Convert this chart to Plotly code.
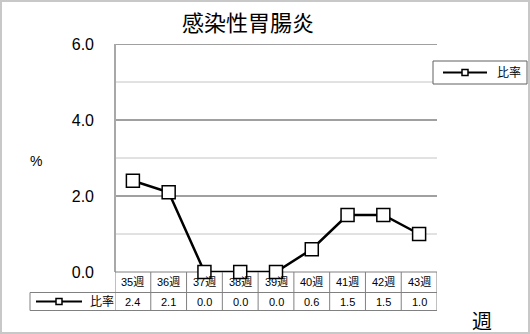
import plotly.graph_objects as go

weeks = ["35週", "36週", "37週", "38週", "39週", "40週", "41週", "42週", "43週"]
ratio = [2.4, 2.1, 0.0, 0.0, 0.0, 0.6, 1.5, 1.5, 1.0]
series_name = "比率"
title_text = "感染性胃腸炎"
y_ticks = [0, 2, 4, 6]
y_ticktext = ["0.0", "2.0", "4.0", "6.0"]

W, H = 530, 334
L, R, T, B = 115, 437, 44, 272
FONT = "Liberation Sans, Arial, Noto Sans CJK JP"

def px(xp):
    return (xp - L) / (R - L)

def py(yp):
    return (B - yp) / (B - T)

xs = list(range(len(weeks)))

fig = go.Figure()
fig.add_trace(go.Scatter(
    x=xs, y=ratio, mode="lines+markers", showlegend=False, name=series_name, cliponaxis=False,
    line=dict(color="black", width=2.5),
    marker=dict(symbol="square", size=13, color="white", line=dict(color="black", width=1.5)),
))

shapes = []
grid_major = "#808080"
grid_minor = "#c4c4c4"
for v in [1, 3, 5]:
    shapes.append(dict(type="line", xref="paper", yref="y", x0=0, x1=1, y0=v, y1=v,
                       line=dict(color=grid_minor, width=1), layer="below"))
for v in [2, 4, 6]:
    shapes.append(dict(type="line", xref="paper", yref="y", x0=0, x1=1, y0=v, y1=v,
                       line=dict(color=grid_major, width=1.3), layer="below"))
# left axis line
shapes.append(dict(type="line", xref="paper", yref="paper", x0=0, x1=0, y0=0, y1=1,
                   line=dict(color="#a8a8a8", width=2), layer="below"))

# data table
tcol = "#808080"
y_mid = 292.5
y_bot = 310.5
for k in range(len(weeks) + 1):
    shapes.append(dict(type="line", xref="x", yref="paper", x0=k - 0.5, x1=k - 0.5,
                       y0=py(B), y1=py(y_bot), line=dict(color=tcol, width=1), layer="below"))
shapes.append(dict(type="line", xref="paper", yref="paper", x0=0, x1=1, y0=py(B), y1=py(B),
                   line=dict(color=tcol, width=1), layer="below"))
shapes.append(dict(type="line", xref="paper", yref="paper", x0=px(30), x1=1, y0=py(y_mid), y1=py(y_mid),
                   line=dict(color=tcol, width=1), layer="below"))
shapes.append(dict(type="line", xref="paper", yref="paper", x0=px(30), x1=1, y0=py(y_bot), y1=py(y_bot),
                   line=dict(color=tcol, width=1), layer="below"))
shapes.append(dict(type="line", xref="paper", yref="paper", x0=px(30), x1=px(30), y0=py(y_mid), y1=py(y_bot),
                   line=dict(color=tcol, width=1), layer="below"))
# legend key in table
ym = (y_mid + y_bot) / 2
shapes.append(dict(type="line", xref="paper", yref="paper", x0=px(36), x1=px(82), y0=py(ym), y1=py(ym),
                   line=dict(color="black", width=2)))
shapes.append(dict(type="rect", xref="paper", yref="paper", x0=px(56), x1=px(62), y0=py(ym - 3), y1=py(ym + 3),
                   line=dict(color="black", width=1.5), fillcolor="white"))

# legend box (upper right)
lg_l, lg_r, lg_t, lg_b = 433, 527, 61, 84
lg_m = (lg_t + lg_b) / 2
shapes.append(dict(type="rect", xref="paper", yref="paper", x0=px(lg_l), x1=px(lg_r), y0=py(lg_t), y1=py(lg_b),
                   line=dict(color="#606060", width=1), fillcolor="white"))
shapes.append(dict(type="line", xref="paper", yref="paper", x0=px(443), x1=px(487), y0=py(lg_m), y1=py(lg_m),
                   line=dict(color="black", width=2)))
shapes.append(dict(type="rect", xref="paper", yref="paper", x0=px(462), x1=px(468), y0=py(lg_m - 3), y1=py(lg_m + 3),
                   line=dict(color="black", width=1.5), fillcolor="white"))

# outer border
shapes.append(dict(type="rect", xref="paper", yref="paper", x0=px(1), x1=px(W - 1), y0=py(1), y1=py(H - 1),
                   line=dict(color="#c8c8c8", width=2), layer="below"))

annotations = []
for i, w in enumerate(weeks):
    annotations.append(dict(x=i, y=py((B + y_mid) / 2), xref="x", yref="paper", text=w, showarrow=False,
                            xanchor="center", yanchor="middle",
                            font=dict(size=11, color="black", family=FONT)))
    annotations.append(dict(x=i, y=py(ym), xref="x", yref="paper", text=f"{ratio[i]:.1f}", showarrow=False,
                            xanchor="center", yanchor="middle",
                            font=dict(size=11, color="black", family=FONT)))
annotations.append(dict(x=px(88), y=py(ym), xref="paper", yref="paper", text=series_name, showarrow=False,
                        xanchor="left", yanchor="middle", font=dict(size=12, color="black", family=FONT)))
annotations.append(dict(x=px(495), y=py(lg_m), xref="paper", yref="paper", text=series_name, showarrow=False,
                        xanchor="left", yanchor="middle", font=dict(size=12, color="black", family=FONT)))
annotations.append(dict(x=px(36), y=py(161), xref="paper", yref="paper", text="%", showarrow=False,
                        xanchor="center", yanchor="middle",
                        font=dict(size=14, color="black", family=FONT)))
annotations.append(dict(x=px(482), y=py(320), xref="paper", yref="paper", text="週", showarrow=False,
                        xanchor="center", yanchor="middle",
                        font=dict(size=20, color="black", family="Noto Sans CJK JP")))

fig.update_layout(
    width=W, height=H,
    margin=dict(l=L, r=W - R, t=T, b=H - B),
    paper_bgcolor="white", plot_bgcolor="white",
    title=dict(text=title_text, x=248 / W, xanchor="center", y=1 - 23 / H, yanchor="middle",
               font=dict(size=22, color="black", family="Noto Sans CJK JP")),
    xaxis=dict(range=[-0.5, len(weeks) - 0.5], showgrid=False, showticklabels=False, zeroline=False,
               showline=False, fixedrange=True),
    yaxis=dict(range=[0, 6], tickvals=y_ticks, ticktext=y_ticktext, showgrid=False, zeroline=False,
               showline=False, ticks="", ticklabelstandoff=20,
               tickfont=dict(size=16, color="black", family=FONT)),
    shapes=shapes, annotations=annotations,
    showlegend=False,
)

fig.write_html("out.html")
